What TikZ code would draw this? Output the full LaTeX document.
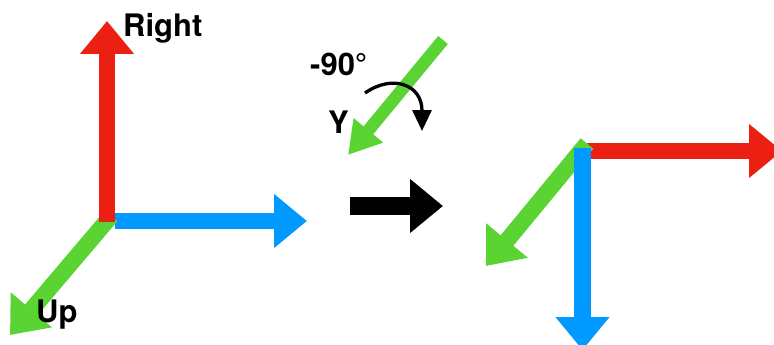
\documentclass[tikz,border=0pt]{standalone}
\usepackage{fontspec}
\setmainfont{TeX Gyre Heros}
\usetikzlibrary{arrows.meta}
\definecolor{axred}{RGB}{236,32,18}
\definecolor{axblue}{RGB}{0,153,255}
\definecolor{axgreen}{RGB}{90,212,50}
\tikzset{
  axis/.style={line width=16.5pt, line cap=butt, -{Triangle[width=52pt,length=33pt]}},
  small axis/.style={line width=12.5pt, line cap=butt, -{Triangle[width=36pt,length=32pt]}},
  lbl/.style={inner sep=0pt, anchor=base west, font=\bfseries\fontsize{31pt}{31pt}\selectfont},
}
\begin{document}
\begin{tikzpicture}[x=1pt,y=-1pt]
\useasboundingbox (0,0) rectangle (774,345);
% left frame
\coordinate (LbS) at (115,221);
\coordinate (LbT) at (307,221);
\coordinate (LgS) at (111,216);
\coordinate (LgT) at (10,335);
\coordinate (LrS) at (107,222);
\coordinate (LrT) at (107,21);
\draw[axis, axblue] (LbS) -- (LbT);
\draw[axis, axgreen] (LgS) -- (LgT);
\draw[axis, axred] (LrS) -- (LrT);
\node[lbl] (right) at (123,37) {Right};
\node[lbl] (up) at (36,322) {Up};
% middle rotation
\coordinate (MgS) at (443,40);
\coordinate (MgT) at (348,155);
\draw[small axis, axgreen] (MgS) -- (MgT);
\node[lbl] (deg) at (310,75) {-90°};
\node[lbl] (y) at (328,133) {Y};
\coordinate (RotS) at (365,93);
\coordinate (RotT) at (422,131);
\draw[line width=3.3pt, -{Triangle[width=19pt,length=21pt]}] (RotS) .. controls (392,74) and (422,84) .. (RotT);
\coordinate (BkS) at (350,206);
\coordinate (BkT) at (443,206);
\draw[line width=17.5pt, line cap=butt, -{Triangle[width=52pt,length=33pt]}] (BkS) -- (BkT);
% right frame
\coordinate (RrS) at (587,151);
\coordinate (RrT) at (782,151);
\coordinate (RgS) at (587,143.5);
\coordinate (RgT) at (486,266);
\coordinate (RbS) at (582.5,148);
\coordinate (RbT) at (582.5,350);
\draw[axis, axred] (RrS) -- (RrT);
\draw[axis, axgreen] (RgS) -- (RgT);
\draw[axis, axblue] (RbS) -- (RbT);
\end{tikzpicture}
\end{document}
